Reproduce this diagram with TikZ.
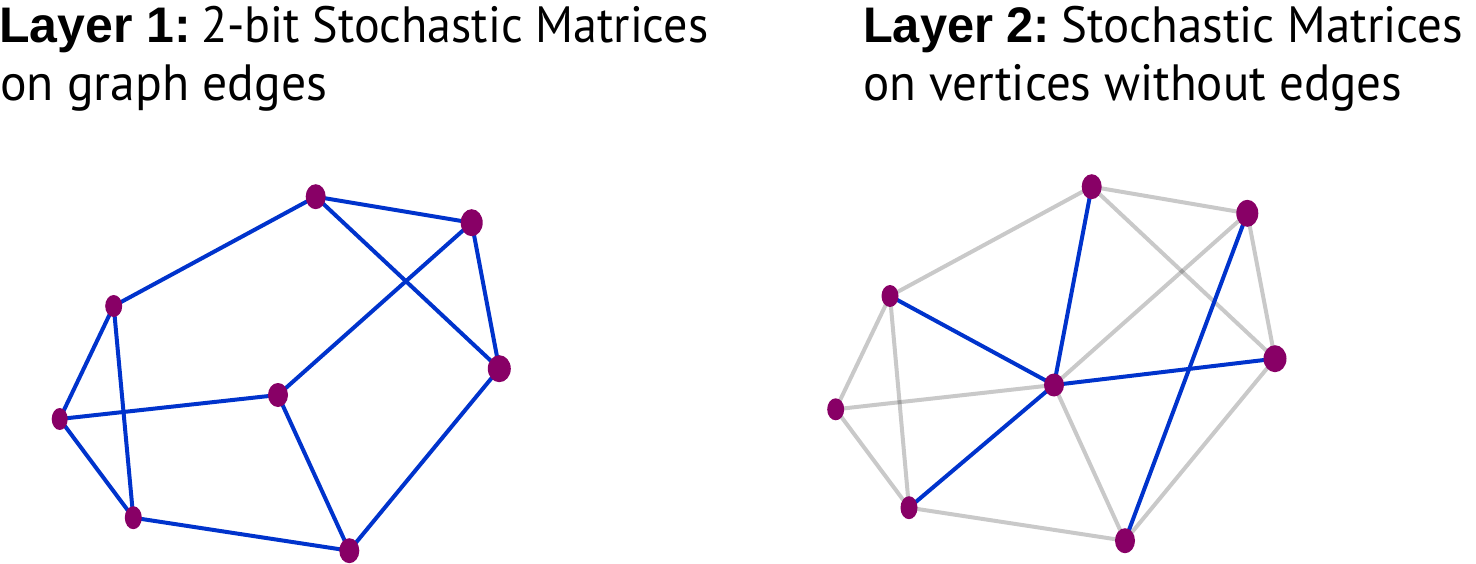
\documentclass[tikz,border=0pt]{standalone}
\usepackage{fontspec}
\setmainfont{PT Sans}
\newfontfamily\headfont{Liberation Sans}
\usetikzlibrary{shapes.geometric}
\pgfdeclarelayer{background}
\pgfsetlayers{background,main}
\definecolor{vpurple}{HTML}{880066}
\definecolor{eblue}{HTML}{0033CC}
\tikzset{
  vtx/.style={ellipse, fill=vpurple, draw=none, inner sep=0pt, minimum width=#1},
  vtx/.default=20pt,
  bedge/.style={draw=eblue, line width=4pt},
  gedge/.style={draw=black, draw opacity=0.21, line width=4pt},
  ttl/.style={anchor=base west, inner sep=0pt, font=\fontsize{51}{57}\selectfont},
  bttl/.style={anchor=base west, inner sep=0pt, font=\fontsize{50}{57}\selectfont\headfont\bfseries}
}
\newcommand{\fitw}[2]{\resizebox{#1}{\height}{#2}}
\begin{document}
\begin{tikzpicture}[x=1pt,y=-1pt]
\useasboundingbox (0,0) rectangle (1476,564);
% titles
\node[bttl] (t1h) at (-1,42.7) {Layer 1:};
\node[ttl] (t1a) at (201,42.7) {\fitw{507pt}{2-bit Stochastic Matrices}};
\node[ttl] (t1b) at (0,101) {\fitw{327pt}{on graph edges}};
\node[bttl] (t2h) at (863,42.7) {\fitw{187pt}{Layer 2:}};
\node[ttl] (t2a) at (1061,42.7) {\fitw{402pt}{Stochastic Matrices}};
\node[ttl] (t2b) at (863,101) {\fitw{539pt}{on vertices without edges}};
% layer 1 vertices
\node[vtx, minimum height=25pt] (A) at (315.7,196.7) {};
\node[vtx=22pt, minimum height=27pt] (B) at (471.7,222.7) {};
\node[vtx=17pt, minimum height=22pt] (C) at (113.7,306) {};
\node[vtx=23pt, minimum height=27pt] (D) at (499.3,368.7) {};
\node[vtx, minimum height=24pt] (E) at (278,395) {};
\node[vtx=16pt, minimum height=22pt] (F) at (59.7,419) {};
\node[vtx=17pt, minimum height=23pt] (G) at (133.3,517.7) {};
\node[vtx, minimum height=25pt] (H) at (349.3,550.7) {};
% layer 2 vertices
\node[vtx, minimum height=25pt] (a) at (1091.7,186.7) {};
\node[vtx=22pt, minimum height=27pt] (b) at (1247.3,213.3) {};
\node[vtx=17pt, minimum height=22pt] (c) at (890,296) {};
\node[vtx=23pt, minimum height=27pt] (d) at (1275,358.7) {};
\node[vtx, minimum height=23pt] (e) at (1054,385) {};
\node[vtx=17pt, minimum height=22pt] (f) at (835.7,409.3) {};
\node[vtx=17pt, minimum height=23pt] (g) at (909,507.7) {};
\node[vtx, minimum height=25pt] (h) at (1125,540.7) {};
\begin{pgfonlayer}{background}
% layer 1 edges
\foreach \u/\v in {C/A, A/B, A/D, B/E, B/D, C/F, C/G, F/E, F/G, E/H, G/H, D/H}
  \draw[bedge] (\u.center) -- (\v.center);
% layer 2 edges
\foreach \u/\v in {c/a, a/b, a/d, b/e, b/d, c/f, c/g, f/e, f/g, e/h, g/h, d/h}
  \draw[gedge] (\u.center) -- (\v.center);
\foreach \u/\v in {a/e, c/e, e/d, e/g, b/h}
  \draw[bedge] (\u.center) -- (\v.center);
\end{pgfonlayer}
\end{tikzpicture}
\end{document}
